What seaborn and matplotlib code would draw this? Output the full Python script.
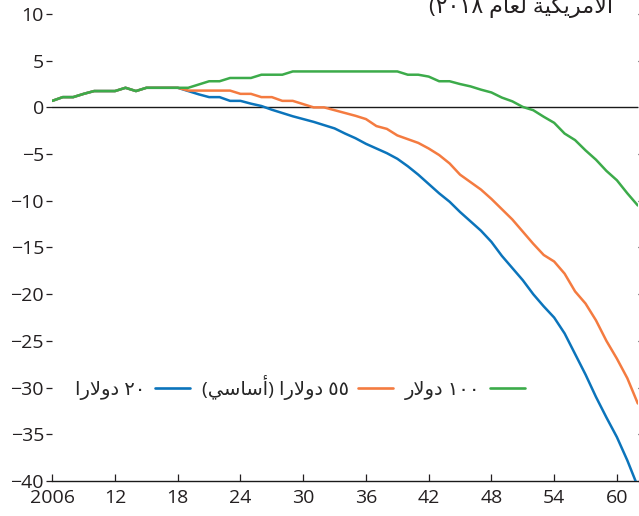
import re
import numpy as np
import pandas as pd
import matplotlib
matplotlib.use("Agg")
import matplotlib.pyplot as plt
from matplotlib.lines import Line2D
import seaborn as sns

# ---------------------------------------------------------------- data
years = list(range(2006, 2063))

common = [0.7, 1.1, 1.1, 1.45, 1.75, 1.75, 1.75, 2.1, 1.75, 2.1,
          2.1, 2.1, 2.1]  # 2006-2018, shared by all three paths

price_100 = common + [2.1, 2.45, 2.8, 2.8, 3.15, 3.15, 3.15, 3.5, 3.5, 3.5,
                      3.85, 3.85, 3.85, 3.85, 3.85, 3.85, 3.85, 3.85, 3.85, 3.85,
                      3.85, 3.5, 3.5, 3.3, 2.8, 2.8, 2.5, 2.25, 1.9, 1.6,
                      1.05, 0.65, 0.05, -0.3, -1.0, -1.65, -2.8, -3.5, -4.6, -5.6,
                      -6.8, -7.8, -9.2, -10.5]

price_55 = common + [1.8, 1.8, 1.8, 1.8, 1.8, 1.45, 1.45, 1.1, 1.1, 0.7,
                     0.7, 0.35, 0.0, 0.0, -0.3, -0.6, -0.9, -1.25, -2.0, -2.3,
                     -3.0, -3.4, -3.8, -4.4, -5.1, -6.0, -7.2, -8.0, -8.8, -9.8,
                     -10.9, -12.0, -13.3, -14.6, -15.8, -16.5, -17.8, -19.7, -21.0, -22.8,
                     -25.0, -26.9, -29.0, -31.7]

price_20 = common + [1.75, 1.4, 1.1, 1.1, 0.7, 0.7, 0.4, 0.15, -0.25, -0.6,
                     -0.95, -1.25, -1.55, -1.9, -2.25, -2.8, -3.3, -3.9, -4.4, -4.9,
                     -5.5, -6.3, -7.2, -8.2, -9.2, -10.1, -11.2, -12.2, -13.2, -14.4,
                     -15.9, -17.2, -18.5, -20.0, -21.3, -22.5, -24.2, -26.4, -28.6, -31.0,
                     -33.2, -35.3, -37.8, -40.6]

series_labels = ["٢٠ دولارا", "٥٥ دولارا (أساسي)", "١٠٠ دولار"]
series_colors = ["#0b74bb", "#f47b40", "#3cab4a"]

y_ticks = list(range(-40, 11, 5))
x_ticks = [2006, 2012, 2018, 2024, 2030, 2036, 2042, 2048, 2054, 2060]
x_tick_labels = ["2006", "12", "18", "24", "30", "36", "42", "48", "54", "60"]

heading = "الأمريكية لعام ٢٠١٨)"

# ------------------------------------------------- Arabic text shaping
# Presentation forms: isolated, final, initial, medial (None = no forward join)
ARABIC_FORMS = {
    "ا": ("\ufe8d", "\ufe8e", None, None),
    "أ": ("\ufe83", "\ufe84", None, None),
    "د": ("\ufea9", "\ufeaa", None, None),
    "ر": ("\ufead", "\ufeae", None, None),
    "و": ("\ufeed", "\ufeee", None, None),
    "ة": ("\ufe93", "\ufe94", None, None),
    "ل": ("\ufedd", "\ufede", "\ufedf", "\ufee0"),
    "س": ("\ufeb1", "\ufeb2", "\ufeb3", "\ufeb4"),
    "ي": ("\ufef1", "\ufef2", "\ufef3", "\ufef4"),
    "ك": ("\ufed9", "\ufeda", "\ufedb", "\ufedc"),
    "ع": ("\ufec9", "\ufeca", "\ufecb", "\ufecc"),
    "م": ("\ufee1", "\ufee2", "\ufee3", "\ufee4"),
}
LAM_ALEF = {"ا": ("\ufefb", "\ufefc", None, None),
            "أ": ("\ufef7", "\ufef8", None, None)}
MIRROR = {"(": ")", ")": "("}


def shape_word(word):
    units = []
    i = 0
    while i < len(word):
        ch = word[i]
        if ch == "ل" and i + 1 < len(word) and word[i + 1] in LAM_ALEF:
            units.append(LAM_ALEF[word[i + 1]])
            i += 2
        elif ch in ARABIC_FORMS:
            units.append(ARABIC_FORMS[ch])
            i += 1
        else:
            units.append(ch)
            i += 1
    out = []
    for k, u in enumerate(units):
        if isinstance(u, str):
            out.append(u)
            continue
        prev = units[k - 1] if k > 0 else None
        nxt = units[k + 1] if k + 1 < len(units) else None
        join_prev = isinstance(prev, tuple) and prev[2] is not None
        join_next = u[2] is not None and isinstance(nxt, tuple)
        idx = {(False, False): 0, (True, False): 1,
               (False, True): 2, (True, True): 3}[(join_prev, join_next)]
        out.append(u[idx])
    return "".join(out)


def visual_token(tok):
    shaped = shape_word(tok)
    runs = re.findall(r"[0-9\u0660-\u0669]+|[^0-9\u0660-\u0669]+", shaped)
    parts = []
    for r in reversed(runs):
        if r[0].isdigit():
            parts.append(r)
        else:
            parts.append("".join(MIRROR.get(c, c) for c in reversed(r)))
    return "".join(parts)


def rtl(text):
    return " ".join(visual_token(t) for t in reversed(text.split(" ")))


# ---------------------------------------------------------------- plot
sns.set_theme(style="white")
plt.rcParams["font.family"] = ["Open Sans", "DejaVu Sans"]
plt.rcParams["axes.unicode_minus"] = True

df = pd.concat([
    pd.DataFrame({"year": years, "value": vals, "path": lab})
    for vals, lab in zip([price_20, price_55, price_100], series_labels)
])

W, H = 639, 516
fig = plt.figure(figsize=(W / 100, H / 100), dpi=100)
ax_left, ax_right, ax_bottom, ax_top = 52.3, 637.8, 481, 14
ax = fig.add_axes([ax_left / W, 1 - ax_bottom / H,
                   (ax_right - ax_left) / W, (ax_bottom - ax_top) / H])

ax.axhline(0, color="#1a1a1a", lw=1.0, zorder=1)

sns.lineplot(data=df, x="year", y="value", hue="path",
             hue_order=series_labels, palette=series_colors,
             lw=1.8, legend=False, ax=ax, zorder=3)

ax.set_xlim(2006, 2062)
ax.set_ylim(-40, 10)
ax.set_xlabel("")
ax.set_ylabel("")

ax.set_yticks(y_ticks)
ax.set_yticklabels([("\u2212" if v < 0 else "") + str(abs(v)) for v in y_ticks])
ax.set_xticks(x_ticks)
ax.set_xticklabels(x_tick_labels)

for side in ["top", "left", "right"]:
    ax.spines[side].set_visible(False)
ax.spines["bottom"].set_color("#1a1a1a")
ax.spines["bottom"].set_linewidth(1.0)

tick_color = "#231f20"
ax.tick_params(axis="y", which="major", left=True, right=True, direction="out",
               length=4, width=0.9, color=tick_color, labelcolor=tick_color,
               labelsize=14, pad=2)
ax.tick_params(axis="x", which="major", bottom=True, direction="in",
               length=5, width=0.9, color=tick_color, labelcolor=tick_color,
               labelsize=14, pad=6)

handles = [Line2D([], [], color=c, lw=1.9) for c in series_colors]
ax.legend(handles, [rtl(s) for s in series_labels], loc="center",
          bbox_to_anchor=(0.423, 0.201), ncol=3, frameon=False,
          markerfirst=False, handlelength=1.8,
          handletextpad=0.5, columnspacing=0.6,
          prop={"family": ["Open Sans", "DejaVu Sans"], "size": 14})

fig.text(613 / W, 1 - 13 / H, rtl(heading), ha="right", va="baseline",
         fontsize=16, color="#231f20",
         family=["Open Sans", "DejaVu Sans"])

fig.savefig("out.png", dpi=100)
